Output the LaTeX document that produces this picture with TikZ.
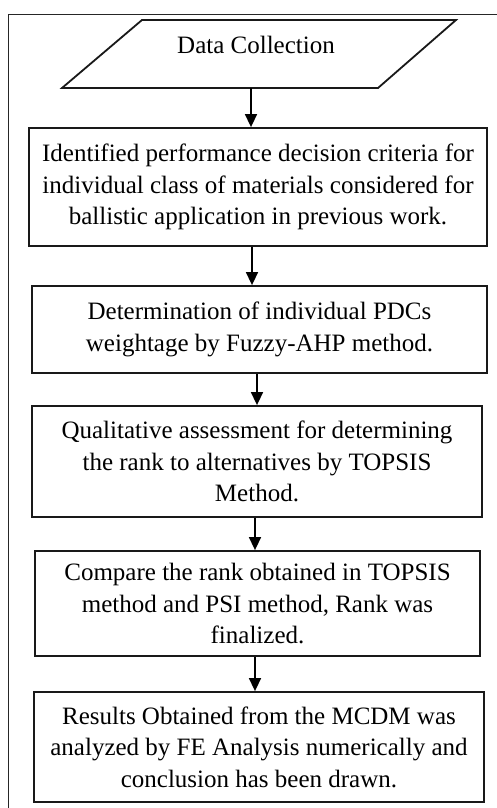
\documentclass[tikz,border=0pt]{standalone}
\usepackage{fontspec}
\setmainfont{Liberation Serif}
\usetikzlibrary{arrows.meta}
\begin{document}
\begin{tikzpicture}[x=1pt,y=-1pt,
  stepbox/.style={draw=black!90, line width=1.8pt, align=center, inner sep=0pt,
    font=\fontsize{25}{31.5}\selectfont},
  arr/.style={draw=black, line width=1.5pt, -{Triangle[width=12pt,length=13pt]}},
  frame/.style={draw=black!85, line width=1pt}]
\useasboundingbox (0,0) rectangle (497,808);
\clip (0,0) rectangle (497,808);
\fill[white] (0,0) rectangle (497,808);
% outer frame
\draw[frame] (8,820) -- (8,14.5) -- (510,14.5);
% parallelogram
\coordinate (pTL) at (142,20);
\coordinate (pTR) at (456,20);
\coordinate (pBR) at (378,88);
\coordinate (pBL) at (62,88);
\draw[draw=black!90, line width=1.8pt, line join=miter] (pTL) -- (pTR) -- (pBR) -- (pBL) -- cycle;
\node[font=\fontsize{25}{31.5}\selectfont, inner sep=0pt] (dc) at (256,45) {Data Collection};
% boxes
\node[stepbox, minimum width=458pt, minimum height=118pt] (b1) at (258,187)
  {Identified performance decision criteria for\\individual class of materials considered for\\ballistic application in previous work.};
\node[stepbox, minimum width=455pt, minimum height=87pt] (b2) at (259.5,329.5)
  {Determination of individual PDCs\\weightage by Fuzzy-AHP method.};
\node[stepbox, minimum width=450pt, minimum height=111pt] (b3) at (257,461.5)
  {Qualitative assessment for determining\\the rank to alternatives by TOPSIS\\Method.};
\node[stepbox, minimum width=445pt, minimum height=105pt] (b4) at (257.5,603.5)
  {Compare the rank obtained in TOPSIS\\method and PSI method, Rank was\\finalized.};
\node[stepbox, minimum width=450pt, minimum height=110pt] (b5) at (259,747)
  {Results Obtained from the MCDM was\\analyzed by FE Analysis numerically and\\conclusion has been drawn.};
% arrow x positions
\coordinate (a1) at (251,88);
\coordinate (a2) at (252,0);
\coordinate (a3) at (257,0);
\coordinate (a4) at (255,0);
\coordinate (a5) at (255,0);
\draw[arr] (a1) -- (a1 |- b1.north);
\draw[arr] (b1.south -| a2) -- (b2.north -| a2);
\draw[arr] (b2.south -| a3) -- (b3.north -| a3);
\draw[arr] (b3.south -| a4) -- (b4.north -| a4);
\draw[arr] (b4.south -| a5) -- (b5.north -| a5);
\end{tikzpicture}
\end{document}
